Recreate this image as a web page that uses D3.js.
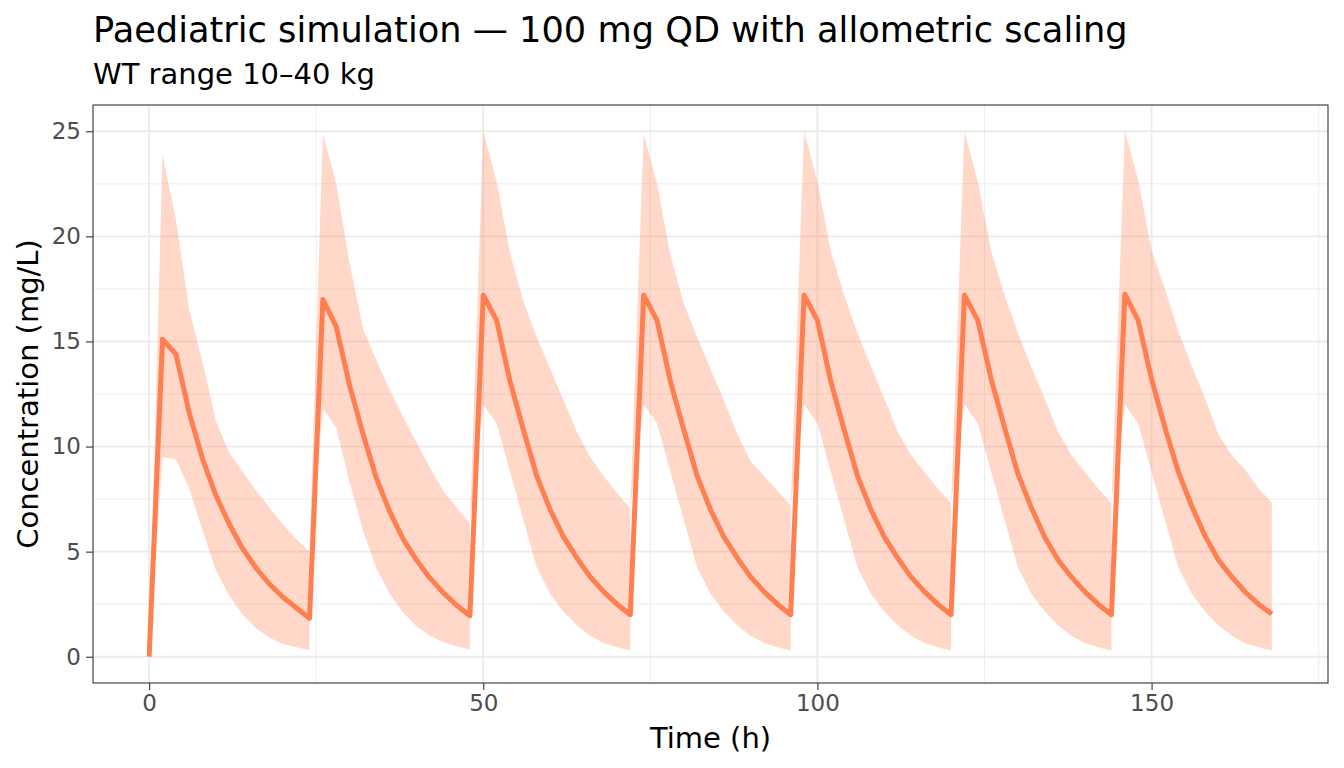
<!DOCTYPE html>
<html>
<head>
<meta charset="utf-8">
<script src="https://cdn.jsdelivr.net/npm/d3@7.9.0/dist/d3.min.js"></script>
<style>
  body { margin: 0; background: #fff; }
  svg { font-family: "DejaVu Sans", sans-serif; }
</style>
</head>
<body>
<svg id="chart" width="1344" height="768"></svg>
<script>
// Sampling times (h), every 2 h over 7 days
const time = [
  0, 2, 4, 6, 8, 10, 12, 14, 16, 18, 20, 22, 24,
  26, 28, 30, 32, 34, 36, 38, 40, 42, 44, 46, 48,
  50, 52, 54, 56, 58, 60, 62, 64, 66, 68, 70, 72,
  74, 76, 78, 80, 82, 84, 86, 88, 90, 92, 94, 96,
  98, 100, 102, 104, 106, 108, 110, 112, 114, 116, 118, 120,
  122, 124, 126, 128, 130, 132, 134, 136, 138, 140, 142, 144,
  146, 148, 150, 152, 154, 156, 158, 160, 162, 164, 166, 168
];

// Median concentration (mg/L)
const median = [
  0, 15.1, 14.4, 11.6, 9.4, 7.67, 6.3, 5.14, 4.22, 3.46, 2.84, 2.33, 1.83,
  17.0, 15.7, 12.9, 10.6, 8.5, 6.9, 5.6, 4.6, 3.75, 3.05, 2.45, 1.95,
  17.2, 16.0, 13.1, 10.8, 8.6, 7.0, 5.7, 4.7, 3.8, 3.1, 2.5, 2.0,
  17.2, 16.0, 13.1, 10.8, 8.6, 7.0, 5.7, 4.7, 3.8, 3.1, 2.5, 2.0,
  17.2, 16.0, 13.1, 10.8, 8.6, 7.0, 5.7, 4.7, 3.8, 3.1, 2.5, 2.0,
  17.2, 16.0, 13.2, 10.9, 8.7, 7.1, 5.7, 4.6, 3.8, 3.1, 2.5, 2.0,
  17.25, 16.0, 13.2, 10.9, 8.8, 7.17, 5.75, 4.6, 3.8, 3.08, 2.5, 2.03
];

// Lower bound of the WT band (mg/L)
const lower = [
  0, 9.5, 9.4, 8.0, 6.0, 4.1, 2.9, 2.0, 1.35, 0.9, 0.6, 0.45, 0.32,
  11.8, 10.9, 8.3, 6.0, 4.2, 3.0, 2.1, 1.45, 1.0, 0.7, 0.5, 0.33,
  12.0, 11.1, 8.8, 6.5, 4.25, 3.0, 2.15, 1.5, 1.0, 0.65, 0.45, 0.3,
  12.0, 11.1, 8.8, 6.5, 4.25, 3.0, 2.15, 1.5, 1.0, 0.65, 0.45, 0.3,
  12.0, 11.1, 8.8, 6.5, 4.25, 3.0, 2.15, 1.5, 1.0, 0.65, 0.45, 0.3,
  12.0, 11.1, 8.8, 6.5, 4.25, 3.0, 2.15, 1.5, 1.0, 0.65, 0.45, 0.3,
  12.0, 11.08, 8.8, 6.5, 4.25, 3.0, 2.15, 1.5, 1.0, 0.63, 0.45, 0.3
];

// Upper bound of the WT band (mg/L)
const upper = [
  0, 23.9, 20.8, 16.5, 14.0, 11.2, 9.7, 8.8, 7.9, 7.1, 6.3, 5.6, 5.0,
  24.9, 22.5, 18.7, 15.6, 14.1, 12.7, 11.4, 10.2, 9.0, 7.9, 7.1, 6.35,
  25.0, 22.6, 19.2, 16.9, 15.2, 13.7, 12.2, 10.7, 9.5, 8.6, 7.8, 7.05,
  24.9, 22.5, 19.1, 16.8, 15.2, 13.7, 12.2, 10.6, 9.3, 8.6, 7.9, 7.2,
  25.0, 22.6, 19.3, 17.2, 15.4, 13.8, 12.3, 10.7, 9.6, 8.8, 8.0, 7.3,
  25.0, 22.6, 19.3, 17.2, 15.4, 13.8, 12.3, 10.7, 9.6, 8.8, 8.0, 7.3,
  25.0, 22.67, 19.33, 17.5, 15.5, 13.83, 12.3, 10.58, 9.58, 8.9, 8.0, 7.33
];

// Dose times where the band restarts
const doseTimes = [24, 48, 72, 96, 120, 144];

const xTicks = [0, 50, 100, 150];
const yTicks = [0, 5, 10, 15, 20, 25];

const lineColor = "#FF7F50";

const svg = d3.select("#chart");
const margin = { top: 105, right: 16, bottom: 85, left: 93 };
const width = 1344 - margin.left - margin.right;
const height = 768 - margin.top - margin.bottom;

// ggplot-style 5% expansion
const xExt = d3.extent(time);
const xPad = (xExt[1] - xExt[0]) * 0.05;
const yMax = d3.max(upper);
const yPad = yMax * 0.05;

const x = d3.scaleLinear().domain([xExt[0] - xPad, xExt[1] + xPad]).range([0, width]);
const y = d3.scaleLinear().domain([-yPad, yMax + yPad]).range([height, 0]);

const g = svg.append("g").attr("transform", `translate(${margin.left},${margin.top})`);

// Minor grid
const xMinor = [25, 75, 125, 175].filter(v => v < x.domain()[1]);
const yMinor = [2.5, 7.5, 12.5, 17.5, 22.5];
g.selectAll(".xminor").data(xMinor).join("line")
  .attr("x1", d => x(d)).attr("x2", d => x(d)).attr("y1", 0).attr("y2", height)
  .attr("stroke", "#EBEBEB").attr("stroke-width", 0.9);
g.selectAll(".yminor").data(yMinor).join("line")
  .attr("y1", d => y(d)).attr("y2", d => y(d)).attr("x1", 0).attr("x2", width)
  .attr("stroke", "#EBEBEB").attr("stroke-width", 0.9);

// Major grid
g.selectAll(".xmajor").data(xTicks).join("line")
  .attr("x1", d => x(d)).attr("x2", d => x(d)).attr("y1", 0).attr("y2", height)
  .attr("stroke", "#EBEBEB").attr("stroke-width", 1.8);
g.selectAll(".ymajor").data(yTicks).join("line")
  .attr("y1", d => y(d)).attr("y2", d => y(d)).attr("x1", 0).attr("x2", width)
  .attr("stroke", "#EBEBEB").attr("stroke-width", 1.8);

// Band rows: at each dose an extra row closes the band at the trough top
let bandRows = [];
time.forEach((t, i) => {
  bandRows.push({ t: t, lo: lower[i], hi: upper[i] });
  if (doseTimes.includes(t)) bandRows.push({ t: t, lo: upper[i], hi: upper[i] });
});

const area = d3.area()
  .x(d => x(d.t))
  .y0(d => y(d.lo))
  .y1(d => y(d.hi));

g.append("path")
  .datum(bandRows)
  .attr("d", area)
  .attr("fill", lineColor)
  .attr("fill-opacity", 0.3);

const line = d3.line()
  .x((d, i) => x(time[i]))
  .y(d => y(d));

g.append("path")
  .datum(median)
  .attr("d", line)
  .attr("fill", "none")
  .attr("stroke", lineColor)
  .attr("stroke-width", 5)
  .attr("stroke-linejoin", "round");

// Panel border
g.append("rect")
  .attr("width", width).attr("height", height)
  .attr("fill", "none").attr("stroke", "#333333").attr("stroke-width", 1.1);

// Axes
const xAxis = g.append("g").attr("transform", `translate(0,${height})`)
  .call(d3.axisBottom(x).tickValues(xTicks).tickSize(7).tickPadding(5));
const yAxis = g.append("g")
  .call(d3.axisLeft(y).tickValues(yTicks).tickSize(7).tickPadding(5));

[xAxis, yAxis].forEach(a => {
  a.select(".domain").remove();
  a.selectAll(".tick line").attr("stroke", "#333333").attr("stroke-width", 1.1);
  a.selectAll(".tick text")
    .attr("fill", "#4D4D4D")
    .style("font-size", "23px")
    .style("font-family", "DejaVu Sans");
});

// Titles
svg.append("text")
  .attr("x", 93).attr("y", 42)
  .style("font-size", "35.2px")
  .attr("fill", "#000")
  .text("Paediatric simulation — 100 mg QD with allometric scaling");

svg.append("text")
  .attr("x", 93).attr("y", 84)
  .style("font-size", "29px")
  .attr("fill", "#000")
  .text("WT range 10–40 kg");

svg.append("text")
  .attr("x", margin.left + width / 2).attr("y", 748)
  .attr("text-anchor", "middle")
  .style("font-size", "29px")
  .text("Time (h)");

svg.append("text")
  .attr("transform", `translate(38,${margin.top + height / 2}) rotate(-90)`)
  .attr("text-anchor", "middle")
  .style("font-size", "29px")
  .text("Concentration (mg/L)");
</script>
</body>
</html>
